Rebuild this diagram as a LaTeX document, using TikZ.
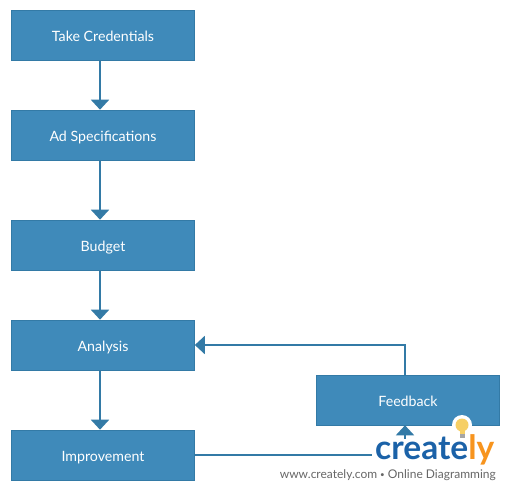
\documentclass[tikz,border=0pt]{standalone}
\usepackage{fontspec}
\setmainfont{Lato}
\usepackage{xcolor}
\usetikzlibrary{arrows.meta}
\definecolor{boxblue}{HTML}{3F8ABA}
\definecolor{lineblue}{HTML}{337AA6}
\definecolor{logoblue}{HTML}{1B62A8}
\definecolor{logoorange}{HTML}{F7941E}
\definecolor{bulbyellow}{HTML}{F6CF65}
\tikzstyle{step box} = [rectangle, draw=lineblue, fill=boxblue, text=white, line width=0.6pt, minimum width=183pt, minimum height=50pt, inner sep=0pt, text height=12pt, text depth=0pt, font=\fontsize{14.2pt}{16pt}\selectfont]
\tikzstyle{link} = [-{Triangle[length=10pt,width=18pt]}, draw=lineblue, line width=2pt]

\begin{document}
\begin{tikzpicture}[x=1pt,y=-1pt]
  \useasboundingbox (0,0) rectangle (510,490);

  \node[step box] (take) at (103,35) {Take Credentials};
  \node[step box] (spec) at (103,135) {Ad Specifications};
  \node[step box] (budget) at (103,245) {Budget};
  \node[step box] (analysis) at (103,345) {Analysis};
  \node[step box] (improve) at (103,455) {Improvement};
  \node[step box] (feedback) at (408,400) {Feedback};

  \draw[link] (take.south -| 100,0) -- (spec.north -| 100,0);
  \draw[link] (spec.south -| 100,0) -- (budget.north -| 100,0);
  \draw[link] (budget.south -| 100,0) -- (analysis.north -| 100,0);
  \draw[link] (analysis.south -| 100,0) -- (improve.north -| 100,0);
  \draw[link] (feedback.north -| 405,0) |- (analysis.east);
  \draw[link] (improve.east) -| (feedback.south -| 405,0);

  % logo sits on top of the last connector
  \node[fill=white, inner xsep=3pt, inner ysep=0pt, text height=20pt, text=logoblue, font=\fontsize{33.5pt}{35pt}\selectfont\bfseries, anchor=base west] (logo) at (372,459) {creat\textcolor{logoblue}{e}\textcolor{logoorange}{ly}};
  \node[circle, fill=white, minimum size=20pt, inner sep=0pt] (halo) at (462,425) {};
  \node[circle, fill=bulbyellow, minimum size=13pt, inner sep=0pt] (bulb) at (462,425) {};
  \node[fill=bulbyellow, minimum width=5pt, minimum height=4pt, inner sep=0pt] (neck) at (462,432) {};
  \node[fill=gray!70, minimum width=5pt, minimum height=4pt, inner sep=0pt] (base) at (462,436) {};
  \node[text=black!60, inner sep=0pt, anchor=base east, font=\fontsize{12pt}{14pt}\selectfont] (url) at (496,478) {www.creately.com {\fontsize{8pt}{8pt}\selectfont\raisebox{1pt}{•}} Online Diagramming};
\end{tikzpicture}
\end{document}
